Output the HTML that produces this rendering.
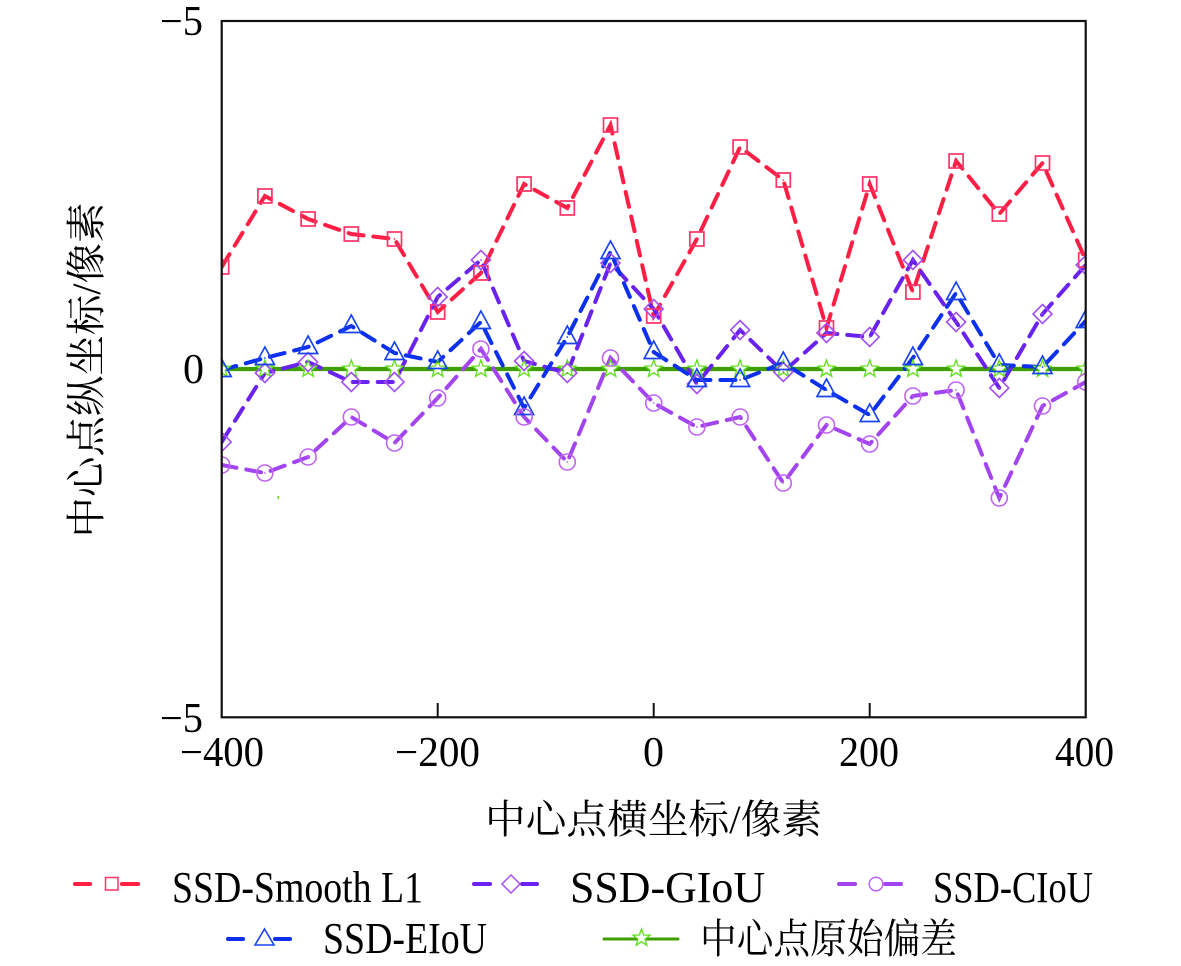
<!DOCTYPE html>
<html><head><meta charset="utf-8"><style>
html,body{margin:0;padding:0;background:#fff;}
svg{display:block;}
</style></head><body>
<svg width="1181" height="966" viewBox="0 0 1181 966" xmlns="http://www.w3.org/2000/svg">
<defs>
<clipPath id="pc"><rect x="221.7" y="21" width="864" height="696.3"/></clipPath>
<g id="sq"><rect x="-7" y="-7" width="14" height="14" fill="none" stroke="#ff3366" stroke-width="1.7"/><circle r="0.9" fill="#ff3366"/></g>
<g id="dm"><path d="M0,-9.5 L9.5,0 L0,9.5 L-9.5,0 Z" fill="none" stroke="#a54ff5" stroke-width="1.6"/><circle r="0.9" fill="#a54ff5"/></g>
<g id="ci"><circle r="8" fill="none" stroke="#c064f2" stroke-width="1.6"/><circle r="0.9" fill="#c064f2"/></g>
<g id="tr"><path d="M0,-11 L9.5,6.5 L-9.5,6.5 Z" fill="none" stroke="#1a44f0" stroke-width="1.7"/><circle r="0.9" fill="#1a44f0"/></g>
<g id="st"><path d="M0,-9 L2.17,-2.99 L8.56,-2.78 L3.52,1.14 L5.29,7.28 L0,3.7 L-5.29,7.28 L-3.52,1.14 L-8.56,-2.78 L-2.17,-2.99 Z" fill="#fff" stroke="#5ee01a" stroke-width="1.3"/></g>
</defs>

<g clip-path="url(#pc)">
<line x1="221.7" y1="369" x2="1085.7" y2="369" stroke="#3f9e00" stroke-width="4.2"/>

<polyline fill="none" stroke="#ff1f45" stroke-width="4" stroke-dasharray="15 10" stroke-linecap="round"
points="221.7,267 264.9,196 308.1,219 351.3,234 394.5,239 437.7,312 480.9,273 524.1,184 567.3,208 610.5,125 653.7,316 696.9,239 740.1,147 783.3,180 826.5,328 869.7,184 912.9,292 956.1,161 999.3,214 1042.5,163 1085.7,260"/>
<polyline fill="none" stroke="#6a22f0" stroke-width="4" stroke-dasharray="15 10" stroke-linecap="round"
points="221.7,442 264.9,373 308.1,362 351.3,382 394.5,382 437.7,297 480.9,260 524.1,361 567.3,373 610.5,263 653.7,309 696.9,384 740.1,330 783.3,372 826.5,333 869.7,337 912.9,260 956.1,322 999.3,388 1042.5,314 1085.7,265"/>
<polyline fill="none" stroke="#0c30ee" stroke-width="4" stroke-dasharray="15 10" stroke-linecap="round"
points="221.7,370 264.9,358 308.1,347 351.3,326 394.5,353 437.7,362 480.9,322 524.1,408 567.3,337 610.5,252 653.7,352 696.9,380 740.1,380 783.3,363 826.5,390 869.7,415 912.9,358 956.1,293 999.3,365 1042.5,367 1085.7,321"/>
<polyline fill="none" stroke="#a245f0" stroke-width="4" stroke-dasharray="15 10" stroke-linecap="round"
points="221.7,465 264.9,473 308.1,457 351.3,417 394.5,443 437.7,398 480.9,349 524.1,417 567.3,462 610.5,358 653.7,403 696.9,427 740.1,417 783.3,483 826.5,425 869.7,444 912.9,396 956.1,390 999.3,498 1042.5,406 1085.7,382"/>

<use href="#st" x="221.7" y="369"/><use href="#st" x="264.9" y="369"/><use href="#st" x="308.1" y="369"/><use href="#st" x="351.3" y="369"/><use href="#st" x="394.5" y="369"/><use href="#st" x="437.7" y="369"/><use href="#st" x="480.9" y="369"/><use href="#st" x="524.1" y="369"/><use href="#st" x="567.3" y="369"/><use href="#st" x="610.5" y="369"/><use href="#st" x="653.7" y="369"/><use href="#st" x="696.9" y="369"/><use href="#st" x="740.1" y="369"/><use href="#st" x="783.3" y="369"/><use href="#st" x="826.5" y="369"/><use href="#st" x="869.7" y="369"/><use href="#st" x="912.9" y="369"/><use href="#st" x="956.1" y="369"/><use href="#st" x="999.3" y="369"/><use href="#st" x="1042.5" y="369"/><use href="#st" x="1085.7" y="369"/>

<use href="#sq" x="221.7" y="267"/><use href="#sq" x="264.9" y="196"/><use href="#sq" x="308.1" y="219"/><use href="#sq" x="351.3" y="234"/><use href="#sq" x="394.5" y="239"/><use href="#sq" x="437.7" y="312"/><use href="#sq" x="480.9" y="273"/><use href="#sq" x="524.1" y="184"/><use href="#sq" x="567.3" y="208"/><use href="#sq" x="610.5" y="125"/><use href="#sq" x="653.7" y="316"/><use href="#sq" x="696.9" y="239"/><use href="#sq" x="740.1" y="147"/><use href="#sq" x="783.3" y="180"/><use href="#sq" x="826.5" y="328"/><use href="#sq" x="869.7" y="184"/><use href="#sq" x="912.9" y="292"/><use href="#sq" x="956.1" y="161"/><use href="#sq" x="999.3" y="214"/><use href="#sq" x="1042.5" y="163"/><use href="#sq" x="1085.7" y="260"/>

<use href="#dm" x="221.7" y="442"/><use href="#dm" x="264.9" y="373"/><use href="#dm" x="308.1" y="362"/><use href="#dm" x="351.3" y="382"/><use href="#dm" x="394.5" y="382"/><use href="#dm" x="437.7" y="297"/><use href="#dm" x="480.9" y="260"/><use href="#dm" x="524.1" y="361"/><use href="#dm" x="567.3" y="373"/><use href="#dm" x="610.5" y="263"/><use href="#dm" x="653.7" y="309"/><use href="#dm" x="696.9" y="384"/><use href="#dm" x="740.1" y="330"/><use href="#dm" x="783.3" y="372"/><use href="#dm" x="826.5" y="333"/><use href="#dm" x="869.7" y="337"/><use href="#dm" x="912.9" y="260"/><use href="#dm" x="956.1" y="322"/><use href="#dm" x="999.3" y="388"/><use href="#dm" x="1042.5" y="314"/><use href="#dm" x="1085.7" y="265"/>

<use href="#tr" x="221.7" y="370"/><use href="#tr" x="264.9" y="358"/><use href="#tr" x="308.1" y="347"/><use href="#tr" x="351.3" y="326"/><use href="#tr" x="394.5" y="353"/><use href="#tr" x="437.7" y="362"/><use href="#tr" x="480.9" y="322"/><use href="#tr" x="524.1" y="408"/><use href="#tr" x="567.3" y="337"/><use href="#tr" x="610.5" y="252"/><use href="#tr" x="653.7" y="352"/><use href="#tr" x="696.9" y="380"/><use href="#tr" x="740.1" y="380"/><use href="#tr" x="783.3" y="363"/><use href="#tr" x="826.5" y="390"/><use href="#tr" x="869.7" y="415"/><use href="#tr" x="912.9" y="358"/><use href="#tr" x="956.1" y="293"/><use href="#tr" x="999.3" y="365"/><use href="#tr" x="1042.5" y="367"/><use href="#tr" x="1085.7" y="321"/>

<use href="#ci" x="221.7" y="465"/><use href="#ci" x="264.9" y="473"/><use href="#ci" x="308.1" y="457"/><use href="#ci" x="351.3" y="417"/><use href="#ci" x="394.5" y="443"/><use href="#ci" x="437.7" y="398"/><use href="#ci" x="480.9" y="349"/><use href="#ci" x="524.1" y="417"/><use href="#ci" x="567.3" y="462"/><use href="#ci" x="610.5" y="358"/><use href="#ci" x="653.7" y="403"/><use href="#ci" x="696.9" y="427"/><use href="#ci" x="740.1" y="417"/><use href="#ci" x="783.3" y="483"/><use href="#ci" x="826.5" y="425"/><use href="#ci" x="869.7" y="444"/><use href="#ci" x="912.9" y="396"/><use href="#ci" x="956.1" y="390"/><use href="#ci" x="999.3" y="498"/><use href="#ci" x="1042.5" y="406"/><use href="#ci" x="1085.7" y="382"/>

<rect x="277.5" y="496" width="1.5" height="3" fill="#5ee01a"/>
</g>

<rect x="221.7" y="21" width="864" height="696.3" fill="none" stroke="#111" stroke-width="2.2"/>
<g stroke="#111" stroke-width="2">
<line x1="437.7" y1="717" x2="437.7" y2="703"/>
<line x1="653.7" y1="717" x2="653.7" y2="703"/>
<line x1="869.7" y1="717" x2="869.7" y2="703"/>
</g>

<g font-family="'Liberation Serif', serif" font-size="42" fill="#000">
<text x="160" y="35" textLength="43" lengthAdjust="spacingAndGlyphs">−5</text>
<text x="183" y="383" textLength="21" lengthAdjust="spacingAndGlyphs">0</text>
<text x="160" y="732" textLength="43" lengthAdjust="spacingAndGlyphs">−5</text>
<text x="180" y="766" textLength="84" lengthAdjust="spacingAndGlyphs">−400</text>
<text x="395" y="766" textLength="85" lengthAdjust="spacingAndGlyphs">−200</text>
<text x="643" y="766" textLength="21" lengthAdjust="spacingAndGlyphs">0</text>
<text x="839" y="766" textLength="60" lengthAdjust="spacingAndGlyphs">200</text>
<text x="1055" y="766" textLength="59" lengthAdjust="spacingAndGlyphs">400</text>
</g>

<g font-family="'Liberation Serif', 'Noto Serif CJK SC', serif" font-size="40" fill="#000">
<text x="485" y="833" textLength="337" lengthAdjust="spacingAndGlyphs">中心点横坐标/像素</text>
<text transform="translate(100,370) rotate(-90)" text-anchor="middle" textLength="335" lengthAdjust="spacingAndGlyphs">中心点纵坐标/像素</text>
</g>

<g stroke-width="4" stroke-linecap="round">
<line x1="75" y1="884" x2="90" y2="884" stroke="#ff1f45"/><line x1="122" y1="884" x2="138" y2="884" stroke="#ff1f45"/>
<line x1="474" y1="884" x2="490" y2="884" stroke="#6a22f0"/><line x1="522" y1="884" x2="537" y2="884" stroke="#6a22f0"/>
<line x1="839" y1="884" x2="855" y2="884" stroke="#a245f0"/><line x1="885" y1="884" x2="901" y2="884" stroke="#a245f0"/>
<line x1="228" y1="939" x2="243" y2="939" stroke="#0c30ee"/><line x1="275" y1="939" x2="290" y2="939" stroke="#0c30ee"/>
<line x1="604" y1="939" x2="678" y2="939" stroke="#3f9e00" stroke-width="3"/>
</g>
<rect x="105.5" y="877.5" width="12.5" height="12.5" fill="none" stroke="#ff3366" stroke-width="1.5"/>
<path d="M511,875 L520,884 L511,893 L502,884 Z" fill="none" stroke="#a54ff5" stroke-width="1.5"/>
<circle cx="876" cy="884" r="6.8" fill="none" stroke="#c064f2" stroke-width="1.5"/>
<path d="M264.5,929 L274,945 L255,945 Z" fill="none" stroke="#1a44f0" stroke-width="1.6"/>
<use href="#st" x="641.5" y="938"/>

<g font-family="'Liberation Serif', 'Noto Serif CJK SC', serif" font-size="44" fill="#000">
<text x="172" y="902" textLength="251" lengthAdjust="spacingAndGlyphs">SSD-Smooth L1</text>
<text x="570" y="902" textLength="195" lengthAdjust="spacingAndGlyphs">SSD-GIoU</text>
<text x="933" y="902" textLength="160" lengthAdjust="spacingAndGlyphs">SSD-CIoU</text>
<text x="323" y="953" textLength="164" lengthAdjust="spacingAndGlyphs">SSD-EIoU</text>
<text x="700" y="953" font-size="41" textLength="257" lengthAdjust="spacingAndGlyphs">中心点原始偏差</text>
</g>
</svg>
</body></html>
